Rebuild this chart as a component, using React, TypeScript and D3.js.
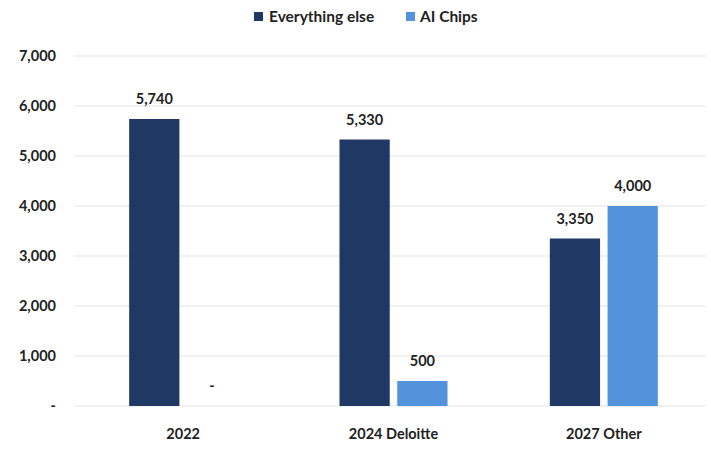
import React from "react";
import * as d3 from "d3";

const categories = ["2022", "2024 Deloitte", "2027 Other"];
const seriesNames = ["Everything else", "AI Chips"];
const everythingElse = [5740, 5330, 3350];
const aiChips = [0, 500, 4000];
const yTicks = [0, 1000, 2000, 3000, 4000, 5000, 6000, 7000];
const colors = ["#1F3864", "#5393DB"];

const W = 711;
const H = 450;
const FONT = "Lato, 'Open Sans', sans-serif";

export default function App() {
  const y = d3.scaleLinear().domain([0, 7000]).range([406, 56]);
  const x0 = d3.scaleBand<string>().domain(categories).range([78, 709]).padding(0);
  const x1 = d3
    .scaleBand<string>()
    .domain(seriesNames)
    .range([0, 108])
    .paddingInner(0.13)
    .paddingOuter(0);
  const fmt = (v: number) => (v === 0 ? "-" : d3.format(",")(v));
  const series = [everythingElse, aiChips];
  const fs = 14.5;

  return (
    <svg
      width={W}
      height={H}
      style={{ position: "absolute", left: 0, top: 0, background: "#fff" }}
      fontFamily={FONT}
    >
      {/* gridlines */}
      {yTicks.map((t) => (
        <line
          key={t}
          x1={74}
          x2={706}
          y1={y(t)}
          y2={y(t)}
          stroke="#E3E3E3"
          strokeWidth={1}
        />
      ))}
      {/* y tick labels */}
      {yTicks.map((t) => (
        <text
          key={"l" + t}
          x={56}
          y={y(t)}
          dy="0.35em"
          textAnchor="end"
          fontSize={fs}
          fontWeight={700}
          fill="#222"
        >
          {fmt(t)}
        </text>
      ))}
      {/* bars */}
      {categories.map((c, ci) => {
        const gx = (x0(c) as number) + (x0.bandwidth() - 108) / 2;
        return (
          <g key={c} transform={`translate(${gx},0)`}>
            {seriesNames.map((s, si) => {
              const v = series[si][ci];
              const bx = x1(s) as number;
              return (
                <g key={s}>
                  <rect
                    x={bx}
                    y={y(v)}
                    width={x1.bandwidth()}
                    height={y(0) - y(v)}
                    fill={colors[si]}
                  />
                  <text
                    x={bx + x1.bandwidth() / 2}
                    y={y(v) - 20}
                    dy="0.35em"
                    textAnchor="middle"
                    fontSize={fs}
                    fontWeight={700}
                    fill="#222"
                  >
                    {fmt(v)}
                  </text>
                </g>
              );
            })}
          </g>
        );
      })}
      {/* x labels */}
      {categories.map((c) => (
        <text
          key={"x" + c}
          x={(x0(c) as number) + x0.bandwidth() / 2}
          y={434}
          dy="0.35em"
          textAnchor="middle"
          fontSize={fs}
          fontWeight={700}
          fill="#222"
        >
          {c}
        </text>
      ))}
      {/* legend */}
      <g>
        <rect x={254} y={12} width={9} height={9} fill={colors[0]} />
        <text x={269} y={16.5} dy="0.35em" fontSize={15.5} fontWeight={700} fill="#222">
          {seriesNames[0]}
        </text>
        <rect x={406} y={12} width={9} height={9} fill={colors[1]} />
        <text x={420} y={16.5} dy="0.35em" fontSize={15.5} fontWeight={700} fill="#222">
          {seriesNames[1]}
        </text>
      </g>
    </svg>
  );
}
